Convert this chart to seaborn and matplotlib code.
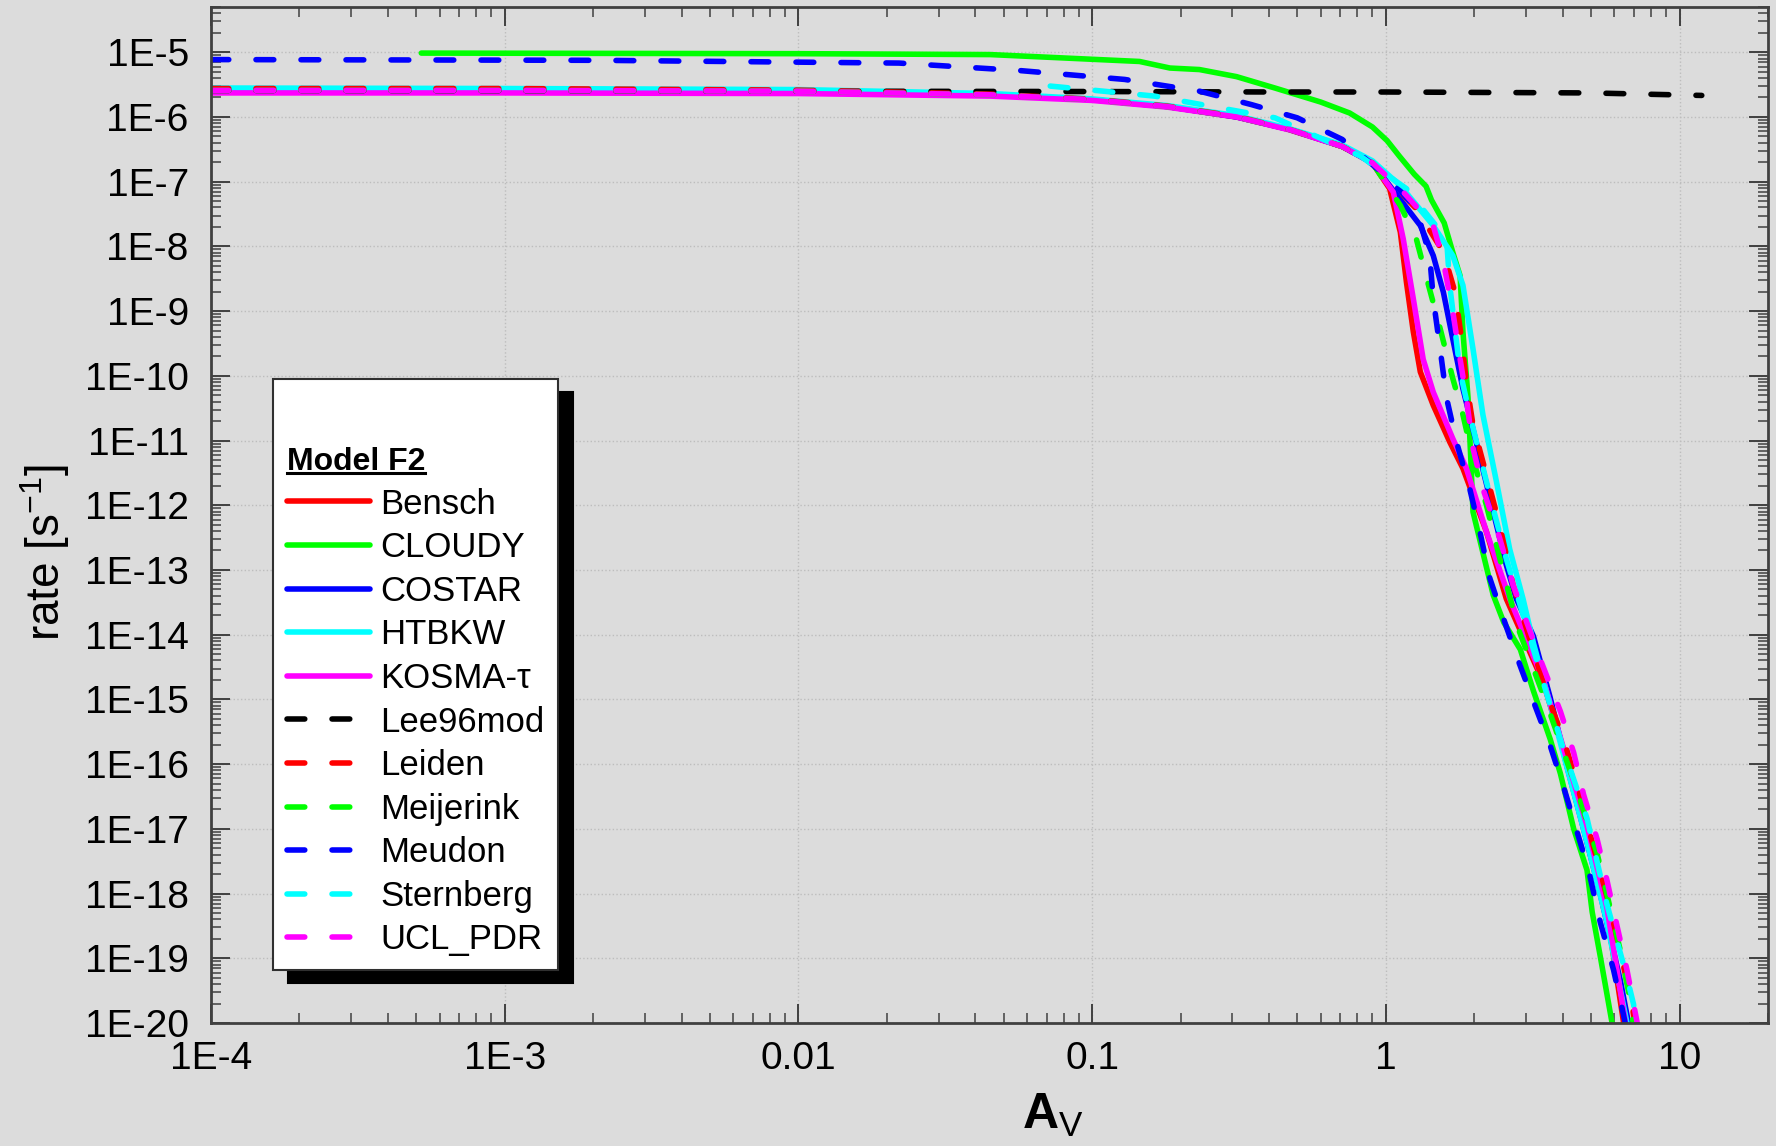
import numpy as np
import pandas as pd
import matplotlib
matplotlib.use("Agg")
import matplotlib.pyplot as plt
from matplotlib.ticker import LogLocator, FixedLocator, FixedFormatter, FuncFormatter, NullFormatter
from matplotlib.lines import Line2D
import seaborn as sns

plt.rcParams["font.family"] = ["Liberation Sans", "DejaVu Sans"]
plt.rcParams["mathtext.fontset"] = "custom"
plt.rcParams["mathtext.rm"] = "Liberation Sans"
plt.rcParams["mathtext.bf"] = "Liberation Sans:bold"
plt.rcParams["mathtext.it"] = "Liberation Sans:italic"

# ── data ─────────────────────────────────────────────────────────────────────
models = ["Bensch", "CLOUDY", "COSTAR", "HTBKW", "KOSMA-τ", "Lee96mod",
          "Leiden", "Meijerink", "Meudon", "Sternberg", "UCL_PDR"]

# shared flat part of most models
group_av   = [1e-4, 1e-3, 0.01, 0.045, 0.1, 0.18, 0.31, 0.47, 0.71, 0.9]
group_rate = [2.57e-6, 2.57e-6, 2.5e-6, 2.2e-6, 1.85e-6, 1.45e-6, 1.0e-6, 6.4e-7, 3.5e-7, 1.95e-7]

bensch_av   = group_av + [1.03, 1.12, 1.175, 1.24, 1.31, 1.45, 1.65, 1.83, 2.2, 2.57, 3.44, 4.14, 4.84, 5.66, 6.5]
bensch_rate = group_rate + [7.8e-8, 1.66e-8, 2.8e-9, 4.8e-10, 1.15e-10, 3.5e-11, 9.5e-12, 3.7e-12, 3.9e-13,
                            3.6e-14, 1.8e-15, 1.1e-16, 1.0e-17, 5.0e-19, 7.9e-21]

cloudy_av   = [5.2e-4, 0.01, 0.045, 0.145, 0.184, 0.232, 0.31, 0.419, 0.6, 0.753, 0.9, 1.01, 1.11, 1.25,
               1.37, 1.43, 1.58, 1.69, 1.79, 1.83, 1.905, 1.95, 1.98, 2.32, 2.52, 2.87, 3.18, 3.63, 3.93,
               4.36, 4.84, 5.04, 5.37, 5.89, 6.0]
cloudy_rate = [9.7e-6, 9.5e-6, 9.2e-6, 7.2e-6, 5.7e-6, 5.4e-6, 4.2e-6, 2.8e-6, 1.7e-6, 1.15e-6, 7.0e-7,
               4.3e-7, 2.5e-7, 1.3e-7, 8.5e-8, 5.2e-8, 2.3e-8, 8.1e-9, 3.5e-9, 4.8e-10, 4.5e-11,
               4.2e-12, 7.9e-13, 4.1e-14, 1.55e-14, 5.9e-15, 1.35e-15, 2.4e-16, 7.1e-17, 1.0e-17,
               2.3e-18, 5.2e-19, 1.07e-19, 1.0e-20, 5.0e-21]

costar_av   = group_av + [1.03, 1.31, 1.45, 1.57, 1.69, 1.83, 2.03, 2.26, 2.57, 2.78, 3.18, 3.63, 4.14,
                          4.71, 5.37, 6.28, 6.9]
costar_rate = group_rate + [8.7e-8, 2.1e-8, 7.2e-9, 1.95e-9, 3.7e-10, 6.3e-11, 9.5e-12, 1.3e-12, 1.2e-13,
                            3.6e-14, 9.5e-15, 1.05e-15, 9.1e-17, 1.0e-17, 9.8e-19, 4.6e-20, 5.0e-21]

htbkw_av   = group_av + [1.12, 1.45, 1.69, 1.83, 1.98, 2.14, 2.38, 2.64, 2.93, 3.18, 3.63, 4.84, 5.66,
                         6.62, 6.8]
htbkw_rate = [2.8e-6, 2.75e-6, 2.65e-6, 2.3e-6, 1.9e-6, 1.5e-6, 1.05e-6, 6.6e-7, 3.7e-7, 2.1e-7,
              8.7e-8, 2.1e-8, 7.2e-9, 2.5e-9, 2.6e-10, 2.5e-11, 2.3e-12, 2.1e-13, 3.6e-14, 7.4e-15,
              8.1e-16, 6.2e-18, 3.6e-19, 1.0e-20, 5.0e-21]

kosma_av   = group_av + [1.06, 1.146, 1.24, 1.34, 1.45, 1.69, 1.88, 2.2, 2.64, 3.44, 4.14, 4.84, 5.66, 6.6]
kosma_rate = [2.35e-6, 2.35e-6, 2.3e-6, 2.1e-6, 1.8e-6, 1.42e-6, 1.0e-6, 6.3e-7, 3.5e-7, 1.95e-7,
              6.9e-8, 1.3e-8, 1.55e-9, 1.8e-10, 5.6e-11, 1.07e-11, 3.7e-12, 3.9e-13, 3.6e-14,
              1.95e-15, 1.15e-16, 1.12e-17, 6.0e-19, 7.9e-21]

lee_av   = [1e-4, 1e-3, 0.01, 0.1, 0.42, 1.0, 5.0, 11.9]
lee_rate = [2.57e-6, 2.55e-6, 2.5e-6, 2.47e-6, 2.43e-6, 2.43e-6, 2.35e-6, 2.15e-6]

leiden_av   = group_av + [1.27, 1.57, 1.72, 1.81, 1.88, 1.98, 2.2, 2.44, 2.71, 2.87, 3.54, 4.03, 4.48,
                          4.90, 5.37, 5.89, 6.37, 6.89, 7.08]
leiden_rate = [2.75e-6, 2.75e-6, 2.6e-6, 2.25e-6, 1.88e-6, 1.47e-6, 1.02e-6, 6.4e-7, 3.5e-7, 1.95e-7,
               3.8e-8, 8.1e-9, 1.95e-9, 3.7e-10, 7.9e-11, 1.74e-11, 2.95e-12, 4.9e-13, 5.9e-14, 2.5e-14,
               1.17e-15, 2.4e-16, 4.9e-17, 1.0e-17, 2.2e-18, 4.4e-19, 9.5e-20, 1.95e-20, 7.9e-21]

meijerink_av   = group_av + [1.12, 1.27, 1.37, 1.53, 1.69, 1.83, 1.98, 2.2, 2.5, 2.82, 3.55, 4.47, 5.25,
                             6.3, 6.76, 7.0]
meijerink_rate = group_rate + [4.3e-8, 1.3e-8, 3.5e-9, 5.4e-10, 9.1e-11, 2.5e-11, 5.2e-12, 1.0e-12,
                               1.0e-13, 1.26e-14, 7.9e-16, 4.0e-17, 4.0e-18, 1.26e-19, 2.5e-20, 7.9e-21]

meudon_av   = [1e-4, 2.1e-3, 0.022, 0.057, 0.129, 0.232, 0.349, 0.499, 0.71, 1.03, 1.27, 1.41, 1.45,
               1.53, 1.61, 1.74, 1.93, 2.09, 2.26, 2.45, 2.79, 3.18, 3.63, 4.03, 4.48, 4.90, 5.37,
               5.96, 6.44, 6.6]
meudon_rate = [7.7e-6, 7.5e-6, 6.8e-6, 5.2e-6, 3.8e-6, 2.5e-6, 1.55e-6, 9.7e-7, 4.5e-7, 1.1e-7, 3.8e-8,
               7.2e-9, 1.55e-9, 2.6e-10, 4.5e-11, 9.5e-12, 1.8e-12, 3.9e-13, 7.4e-14, 2.5e-14, 4.6e-15,
               9.3e-16, 1.9e-16, 4.4e-17, 8.9e-18, 2.3e-18, 3.6e-19, 6.6e-20, 1.35e-20, 7.9e-21]

sternberg_av   = [0.072, 0.163, 0.419, 0.817, 1.175, 1.61, 1.65, 1.79, 1.93, 2.09, 2.32, 2.57, 3.18,
                  4.03, 4.84, 5.66, 6.62, 6.97, 7.16]
sternberg_rate = [3.0e-6, 2.1e-6, 9.7e-7, 2.5e-7, 7.8e-8, 1.3e-8, 2.5e-9, 1.15e-10, 2.5e-11, 5.9e-12,
                  8.9e-13, 1.5e-13, 5.9e-15, 1.66e-16, 1.45e-17, 6.8e-19, 5.1e-20, 1.95e-20, 7.9e-21]

ucl_av   = group_av + [1.12, 1.45, 1.57, 1.69, 1.79, 1.88, 1.98, 2.14, 2.44, 2.71, 3.36, 3.93, 4.36,
                       4.71, 5.24, 5.66, 6.12, 6.62, 7.16, 7.3]
ucl_rate = group_rate + [7.8e-8, 2.1e-8, 5.8e-9, 9.8e-10, 1.8e-10, 4.5e-11, 7.6e-12, 1.8e-12, 3.1e-13,
                         5.9e-14, 4.1e-15, 6.5e-16, 1.5e-16, 3.4e-17, 6.9e-18, 1.6e-18, 3.2e-19,
                         6.6e-20, 1.05e-20, 6.3e-21]

series = {
    "Bensch": (bensch_av, bensch_rate),
    "CLOUDY": (cloudy_av, cloudy_rate),
    "COSTAR": (costar_av, costar_rate),
    "HTBKW": (htbkw_av, htbkw_rate),
    "KOSMA-τ": (kosma_av, kosma_rate),
    "Lee96mod": (lee_av, lee_rate),
    "Leiden": (leiden_av, leiden_rate),
    "Meijerink": (meijerink_av, meijerink_rate),
    "Meudon": (meudon_av, meudon_rate),
    "Sternberg": (sternberg_av, sternberg_rate),
    "UCL_PDR": (ucl_av, ucl_rate),
}
df = pd.concat([pd.DataFrame({"Av": av, "rate": r, "model": m}) for m, (av, r) in series.items()],
               ignore_index=True)

x_ticks = [1e-4, 1e-3, 0.01, 0.1, 1, 10]
x_ticklabels = ["1E-4", "1E-3", "0.01", "0.1", "1", "10"]

palette = {"Bensch": "#ff0000", "CLOUDY": "#00ff00", "COSTAR": "#0000ff", "HTBKW": "#00ffff",
           "KOSMA-τ": "#ff00ff", "Lee96mod": "#000000", "Leiden": "#ff0000", "Meijerink": "#00ff00",
           "Meudon": "#0000ff", "Sternberg": "#00ffff", "UCL_PDR": "#ff00ff"}
dash_map = {m: ("" if i < 5 else (3.2, 4.9)) for i, m in enumerate(models)}

BG = "#dcdcdc"
AX_COL = "#404040"

# ── figure ───────────────────────────────────────────────────────────────────
fig = plt.figure(figsize=(17.76, 11.46), dpi=100, facecolor=BG)
ax = fig.add_axes([211 / 1776, 1 - 1023 / 1146, (1768 - 211) / 1776, (1023 - 7) / 1146])
ax.set_facecolor(BG)
ax.set_xscale("log")
ax.set_yscale("log")

sns.lineplot(data=df, x="Av", y="rate", hue="model", style="model",
             hue_order=models, style_order=models, palette=palette, dashes=dash_map,
             sort=False, estimator=None, legend=False, ax=ax)
lines = ax.get_lines()
for ln in lines:
    ln.set_linewidth(4.0)
    ln.set_dash_capstyle("round")
    ln.set_solid_capstyle("round")
    ln.set_solid_joinstyle("round")

ax.set_xlim(1e-4, 20)
ax.set_ylim(1e-20, 5e-5)

ax.xaxis.set_major_locator(FixedLocator(x_ticks))
ax.xaxis.set_major_formatter(FixedFormatter(x_ticklabels))
ax.xaxis.set_minor_locator(LogLocator(base=10, subs=np.arange(2, 10), numticks=100))
ax.xaxis.set_minor_formatter(NullFormatter())
ax.yaxis.set_major_locator(LogLocator(base=10, numticks=100))
ax.yaxis.set_major_formatter(FuncFormatter(lambda v, p: f"1E{int(round(np.log10(v)))}"))
ax.yaxis.set_minor_locator(LogLocator(base=10, subs=np.arange(2, 10), numticks=200))
ax.yaxis.set_minor_formatter(NullFormatter())

ax.tick_params(which="both", direction="in", top=True, right=True, color=AX_COL)
ax.tick_params(which="major", length=14, width=1.4, labelsize=28, labelcolor="black")
ax.tick_params(which="minor", length=7, width=1.1)
ax.tick_params(axis="x", which="major", pad=13)
ax.tick_params(axis="y", which="major", pad=16)
for sp in ax.spines.values():
    sp.set_color(AX_COL)
    sp.set_linewidth(2)

ax.grid(True, which="major", linestyle=":", color="#bdbdbd", linewidth=1)
ax.set_axisbelow(True)

ax.set_ylabel("rate [s$^{-1}$]", fontsize=33, va="center")
ax.yaxis.set_label_coords(-0.1066, 0.4636)
ax.set_xlabel(r"$\mathbf{A}_{\mathrm{V}}$", fontsize=36, va="center")
ax.xaxis.set_label_coords(0.541, -0.0906)

leg = ax.legend(lines, models, title="\nModel F2", loc="upper left",
                bbox_to_anchor=(0.0398, 0.6339), borderaxespad=0, fontsize=25,
                title_fontproperties={"weight": "bold", "size": 23}, alignment="left",
                fancybox=False, edgecolor="#303030", facecolor="white", framealpha=1,
                handlelength=2.4, handletextpad=0.28, labelspacing=0.305, borderpad=0.4,
                shadow={"ox": 10.8, "oy": -9.4, "facecolor": "black", "edgecolor": "black",
                        "alpha": 1})
leg.get_frame().set_linewidth(1.5)
leg.get_title().set_linespacing(2.05)

# underline the legend title
fig.canvas.draw()
bb = leg.get_title().get_window_extent().transformed(fig.transFigure.inverted())
uy = bb.y0 + 4 / 1146
fig.add_artist(Line2D([bb.x0, bb.x1], [uy, uy], transform=fig.transFigure,
                      color="black", linewidth=2.2, zorder=10))

plt.savefig("out.png", dpi=100, facecolor=BG)
